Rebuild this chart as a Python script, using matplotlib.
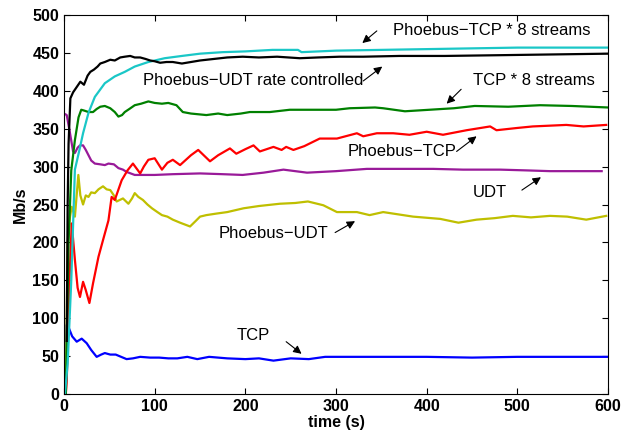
import matplotlib
matplotlib.use('Agg')
import matplotlib.pyplot as plt

# (time in s, rate in Mb/s)
t_udt_rc = [3, 4, 5, 7, 10, 14, 18, 22, 26, 29, 33, 37, 40, 45, 51, 56, 62, 67, 73, 78, 84, 90, 95, 100, 106, 113, 120, 130, 140, 150, 165, 180, 197, 215, 235, 260, 280, 304, 330, 370, 420, 481, 540, 600]
v_udt_rc = [70, 250, 330, 390, 398, 405, 412, 408, 420, 425, 428, 432, 436, 438, 441, 440, 444, 445, 446, 444, 444, 442, 440, 439, 437, 438, 438, 436, 438, 440, 442, 444, 445, 444, 445, 443, 444, 445, 445, 446, 446, 447, 448, 449]

t_tcp8s_ph = [1, 4, 8, 12, 17, 21, 27, 34, 45, 56, 67, 78, 93, 111, 130, 150, 175, 200, 230, 258, 262, 300, 350, 400, 450, 500, 550, 600]
v_tcp8s_ph = [0, 40, 150, 296, 322, 344, 371, 392, 410, 419, 425, 432, 438, 443, 446, 449, 451, 452, 454, 454, 451, 453, 454, 455, 456, 457, 457, 457]

t_tcp8s = [2, 5, 8, 12, 16, 19, 22, 27, 32, 36, 40, 45, 51, 56, 60, 64, 67, 72, 78, 85, 93, 100, 108, 115, 124, 131, 140, 157, 170, 180, 195, 205, 227, 249, 279, 300, 315, 343, 352, 376, 403, 430, 453, 490, 525, 560, 600]
v_tcp8s = [0, 200, 295, 335, 365, 375, 374, 372, 372, 376, 379, 380, 377, 372, 366, 368, 372, 376, 381, 383, 386, 384, 383, 384, 381, 372, 370, 368, 370, 368, 370, 372, 372, 375, 375, 375, 377, 378, 377, 373, 375, 377, 380, 379, 381, 380, 378]

t_ph_tcp = [2, 3, 6, 8.5, 12, 15, 17.6, 21, 24, 28, 32, 38, 43, 49, 52.5, 56, 63.6, 70, 76, 84, 88, 93, 100, 108, 114, 120, 128, 140, 148, 161, 170, 183, 190, 200, 209, 216, 231, 240, 245, 253, 265, 282, 301, 323, 330, 345, 363, 381, 400, 418, 444, 470, 477, 500, 517, 554, 573, 598]
v_ph_tcp = [0, 18, 150, 225, 177, 140, 128, 148, 137, 120, 146, 181, 203, 229, 260, 256, 282, 295, 304, 291, 300, 309, 311, 296, 305, 309, 302, 315, 322, 307, 315, 324, 317, 323, 328, 320, 326, 322, 326, 322, 327, 337, 337, 344, 340, 344, 344, 342, 346, 342, 348, 353, 348, 351, 353, 355, 353, 355]

t_udt = [0, 3, 6.6, 10, 12, 15, 17.6, 21, 24, 27, 30, 34, 40, 45, 49, 55, 60, 65, 69, 78, 90, 100, 120, 150, 175, 197, 220, 242, 268, 300, 334, 370, 407, 440, 481, 510, 536, 565, 593]
v_udt = [370, 368, 344, 320, 318, 325, 328, 328, 322, 315, 308, 304, 303, 302, 304, 303, 298, 296, 293, 289, 289, 289, 290, 291, 290, 289, 292, 296, 292, 294, 297, 297, 297, 296, 296, 295, 294, 294, 294]

t_ph_udt = [2, 4, 6.6, 8.5, 12, 15.8, 18, 21, 24, 27, 30, 34, 38, 43, 47, 51, 55, 58, 65, 71, 75, 78, 82, 87, 92, 97, 103, 108, 114, 120, 128, 139, 145, 150, 157, 168, 180, 198, 215, 238, 255, 269, 286, 301, 323, 337, 352, 363, 385, 415, 435, 455, 475, 495, 515, 536, 555, 576, 598]
v_ph_udt = [0, 200, 234, 247, 234, 289, 262, 250, 262, 260, 266, 265, 270, 274, 270, 269, 262, 254, 258, 251, 258, 265, 260, 256, 250, 245, 240, 236, 234, 230, 226, 221, 228, 234, 236, 238, 240, 245, 248, 251, 252, 254, 249, 240, 240, 236, 240, 238, 234, 231, 226, 230, 232, 235, 233, 235, 234, 230, 235]

t_tcp = [2, 3, 5, 9, 14, 19.5, 25, 30, 36, 41, 45, 51, 57, 63, 69, 76, 84, 95, 105, 115, 125, 136, 147, 160, 180, 200, 215, 231, 250, 270, 288, 320, 360, 400, 450, 500, 550, 600]
v_tcp = [0, 91, 88, 76, 69, 73, 67, 58, 49, 52, 54, 52, 52, 49, 46, 47, 49, 48, 48, 47, 47, 49, 46, 49, 47, 46, 47, 44, 47, 46, 49, 49, 49, 49, 48, 49, 49, 49]

series = [
    (t_tcp, v_tcp, (0, 0, 1)),
    (t_ph_udt, v_ph_udt, (0.75, 0.75, 0)),
    (t_udt, v_udt, (0.6, 0.1, 0.6)),
    (t_ph_tcp, v_ph_tcp, (1, 0, 0)),
    (t_tcp8s, v_tcp8s, (0, 0.5, 0)),
    (t_tcp8s_ph, v_tcp8s_ph, (0.1, 0.78, 0.78)),
    (t_udt_rc, v_udt_rc, (0, 0, 0)),
]

# label text, text pos, arrow tail, arrow head
labels = [
    ('Phoebus\u2212TCP * 8 streams', (363, 480), (345, 479), (329, 463)),
    ('Phoebus\u2212UDT rate controlled', (87, 414), (330, 413), (351, 432)),
    ('TCP * 8 streams', (451, 413), (438, 402), (422, 383)),
    ('Phoebus\u2212TCP', (313, 320), (433, 320), (455, 340)),
    ('UDT', (451, 266), (505, 269), (526, 286)),
    ('Phoebus\u2212UDT', (170, 212), (299, 213), (321, 228)),
    ('TCP', (190, 77), (245, 69), (262, 53)),
]

plt.rcParams['font.family'] = ['Liberation Sans', 'DejaVu Sans']

fig = plt.figure(figsize=(6.24, 4.34), dpi=100)
ax = fig.add_axes([0.1026, 0.0922, 0.8718, 0.8732])

for t, v, c in series:
    ax.plot(t, v, color=c, lw=1.6)

for txt, pos, tail, head in labels:
    ax.text(pos[0], pos[1], txt, fontsize=12, va='center', ha='left')
    ax.annotate('', xy=head, xytext=tail,
                arrowprops=dict(arrowstyle='-|>', color='k', lw=0.8,
                                mutation_scale=12, shrinkA=0, shrinkB=0))

ax.set_xlim(0, 600)
ax.set_ylim(0, 500)
ax.set_xticks(range(0, 601, 100))
ax.set_yticks(range(0, 501, 50))
ax.tick_params(direction='in', top=True, right=True, length=4, width=0.8, labelsize=11.5)
for lab in ax.get_xticklabels() + ax.get_yticklabels():
    lab.set_fontweight('bold')
ax.set_xlabel('time (s)', fontsize=11.5, fontweight='bold', labelpad=1)
ax.set_ylabel('Mb/s', fontsize=11.5, fontweight='bold', labelpad=3)

fig.savefig('out.png', dpi=100)
